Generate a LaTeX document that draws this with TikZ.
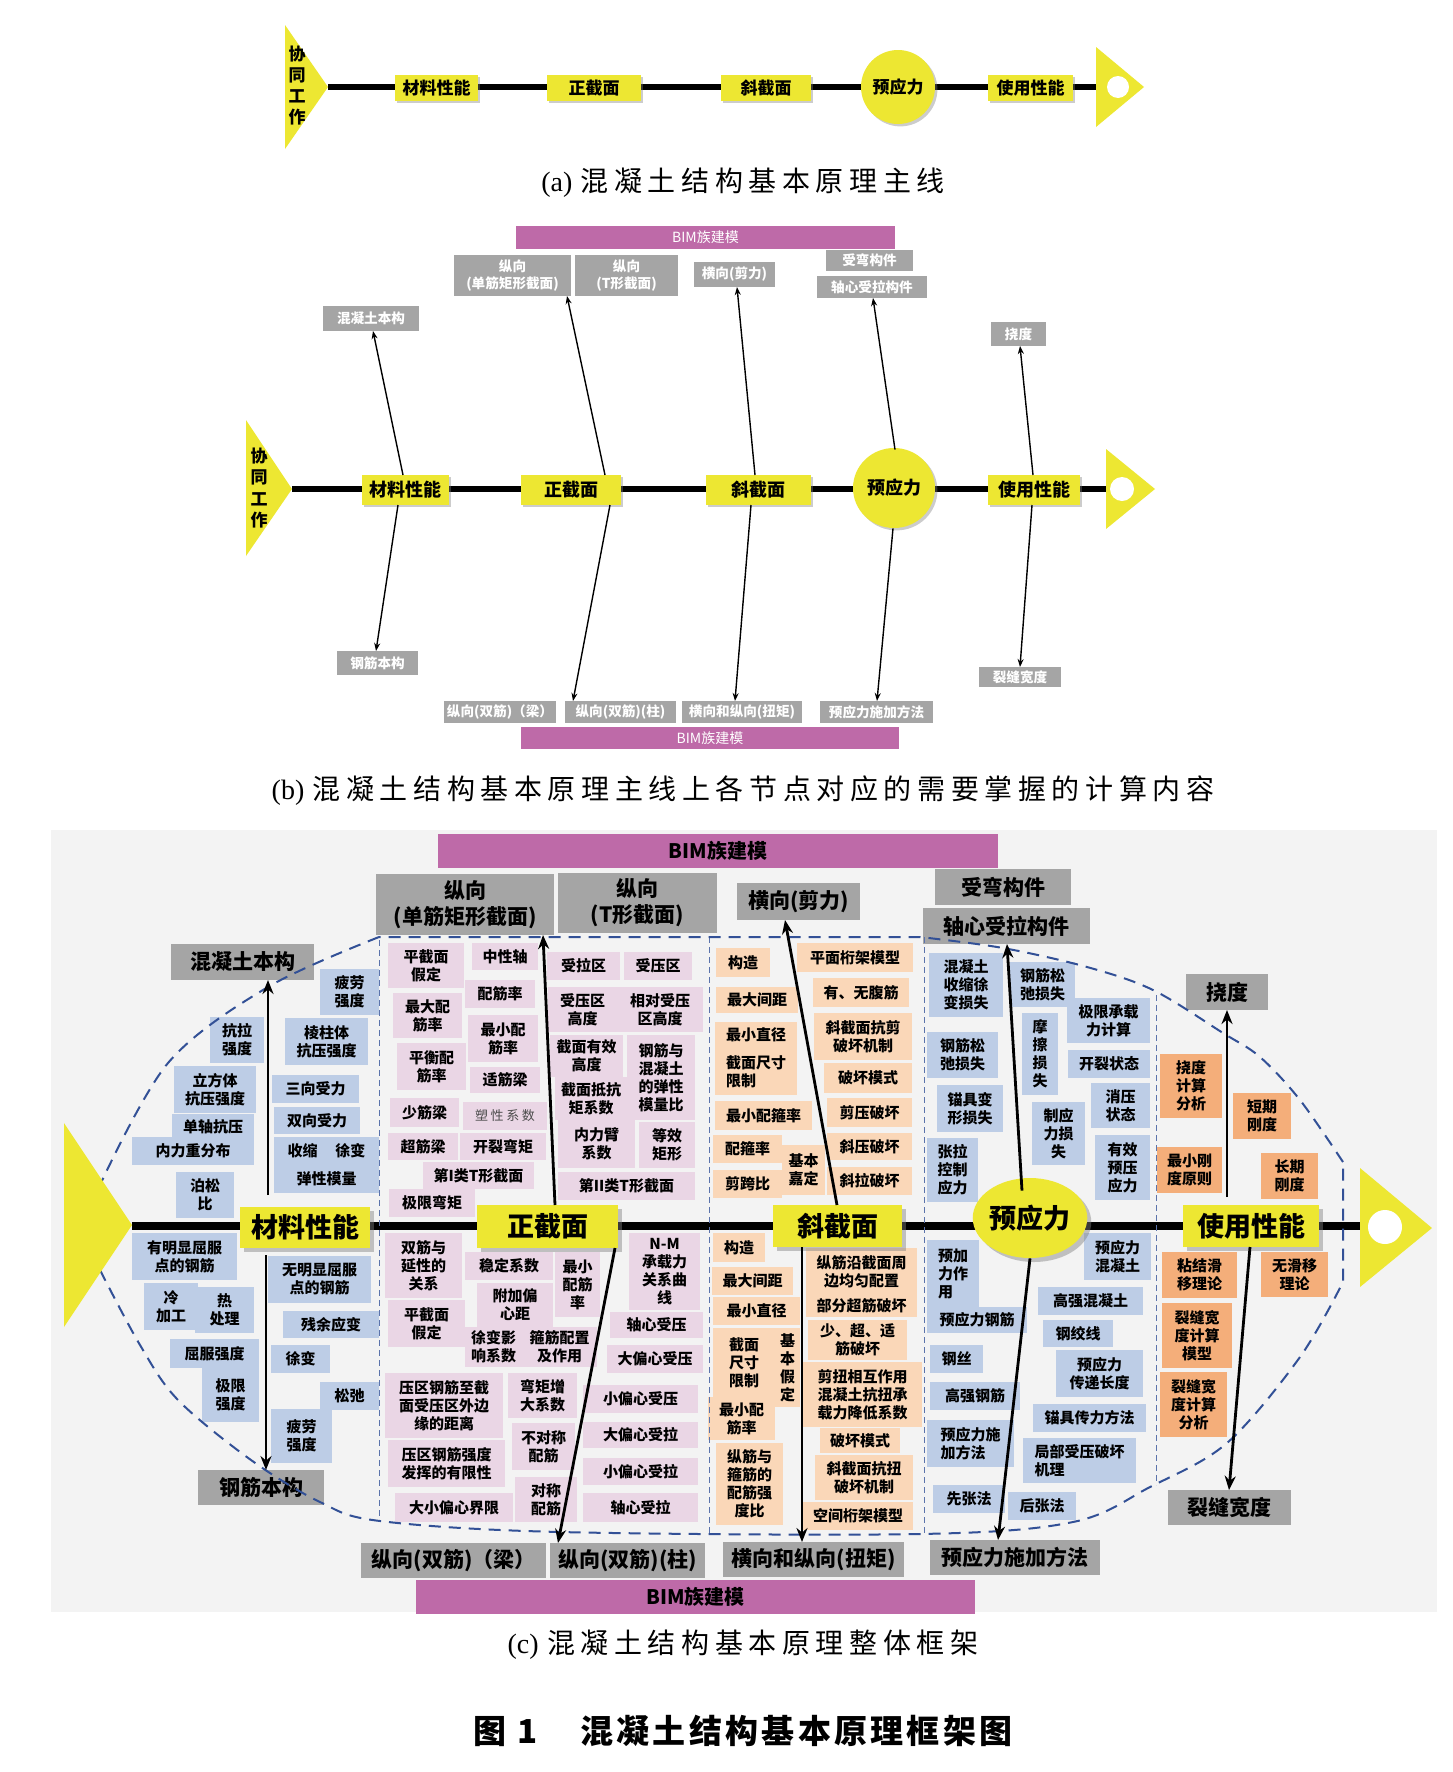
\documentclass[tikz,border=0pt]{standalone}
\usepackage{fontspec}
\setmainfont{Noto Sans CJK SC}
\newfontfamily\song{Noto Sans CJK SC}
\newfontfamily\songsp{Noto Sans CJK SC}[LetterSpace=20]
\newfontfamily\heisp{Noto Sans CJK SC}[LetterSpace=10]
\newfontfamily\tnr{Liberation Serif}
\usetikzlibrary{arrows.meta,shadows,calc,shapes.geometric}
\definecolor{yel}{RGB}{237,231,50}
\definecolor{gry}{RGB}{165,165,165}
\definecolor{bimc}{RGB}{190,106,168}
\definecolor{pk}{RGB}{234,214,229}
\definecolor{pe}{RGB}{250,215,184}
\definecolor{bl}{RGB}{189,205,230}
\definecolor{og}{RGB}{244,174,122}
\definecolor{dsh}{RGB}{50,80,150}
\definecolor{pan}{RGB}{243,243,243}
\newcommand{\bx}[7][]{\node[bx,#1,minimum width={((#5)-(#3))*0.5pt},minimum height={((#6)-(#4))*0.5pt}] (#2) at ({((#3)+(#5))/2},{((#4)+(#6))/2}) {#7};}
\tikzset{
 bx/.style={inner sep=0pt,outer sep=0pt,align=center,text=black,font=\bfseries\fontsize{7.5}{9}\selectfont},
 blb/.style={fill=bl}, pkb/.style={fill=pk}, peb/.style={fill=pe}, ogb/.style={fill=og},
 gyc/.style={fill=gry,font=\bfseries\fontsize{10.5}{13}\selectfont},
 bimcs/.style={fill=bimc,font=\bfseries\fontsize{10}{12}\selectfont},
 yc/.style={fill=yel,font=\bfseries\fontsize{13.5}{15}\selectfont,drop shadow={shadow xshift=2pt,shadow yshift=-2pt,opacity=0.45}},
 ya/.style={fill=yel,font=\bfseries\fontsize{8.5}{10}\selectfont,drop shadow={shadow xshift=1.2pt,shadow yshift=-1.2pt,opacity=0.4}},
 gb/.style={fill=gry,text=white,font=\bfseries\fontsize{6.8}{8.2}\selectfont},
 bimb/.style={fill=bimc,text=white,font=\fontsize{7}{8}\selectfont},
 arrc/.style={-{Stealth[length=7pt,width=5.5pt]},line width=1.4pt},
 arrb/.style={-{Stealth[length=4pt,width=3pt]},line width=0.7pt},
 capt/.style={inner sep=0pt,font=\songsp\fontsize{14}{16}\selectfont},
 dshl/.style={dsh,line width=1pt,dash pattern=on 6pt off 4pt},
 divl/.style={dsh!80,line width=0.5pt,dash pattern=on 3pt off 2pt},
}
\begin{document}
\begin{tikzpicture}[x=0.5pt,y=-0.5pt]
\useasboundingbox (0,0) rectangle (1452,1772);
\fill[white] (0,0) rectangle (1452,1772);
% ================= (a) =================
\fill[yel] (285,25) -- (328,87) -- (285,149) -- cycle;
\node[font=\bfseries\fontsize{8.5}{10.5}\selectfont,align=center,inner sep=0pt] (axt) at (297,86) {协\\同\\工\\作};
\draw[line width=3pt] (328,87) -- (1096,87);
\bx[ya]{ama}{395}{75}{478}{101}{材料性能}
\bx[ya]{azj}{547}{75}{641}{101}{正截面}
\bx[ya]{axj}{721}{75}{811}{101}{斜截面}
\node[ya,circle,minimum size=37pt,inner sep=0pt] (ayy) at (898,87) {预应力};
\bx[ya]{asy}{988}{75}{1073}{101}{使用性能}
\fill[yel] (1096,47) -- (1144,87) -- (1096,127) -- cycle;
\fill[white] (1118,87) circle (5.5pt);
\node[capt] (capa) at (743,183) {{\tnr (a)}\hspace{0.3em}混凝土结构基本原理主线};
% ================= (b) =================
\fill[yel] (246,420) -- (292,489) -- (246,556) -- cycle;
\node[font=\bfseries\fontsize{8.5}{10.75}\selectfont,align=center,inner sep=0pt] (bxt) at (259,488) {协\\同\\工\\作};
\draw[line width=3pt] (292,489) -- (1106,489);
\bx[ya,font=\bfseries\fontsize{9}{10}\selectfont]{bma}{362}{475}{449}{505}{材料性能}
\bx[ya,font=\bfseries\fontsize{9}{10}\selectfont]{bzj}{521}{475}{621}{505}{正截面}
\bx[ya,font=\bfseries\fontsize{9}{10}\selectfont]{bxj}{706}{475}{811}{505}{斜截面}
\node[ya,font=\bfseries\fontsize{9}{10}\selectfont,ellipse,minimum width=41pt,minimum height=40pt,inner sep=0pt] (byy) at (894,488) {预应力};
\bx[ya,font=\bfseries\fontsize{9}{10}\selectfont]{bsy}{988}{475}{1080}{505}{使用性能}
\fill[yel] (1106,449) -- (1155,489) -- (1106,529) -- cycle;
\fill[white] (1122,489) circle (6pt);
\bx[bimb]{bbim1}{516}{226}{895}{249}{BIM族建模}
\bx[bimb]{bbim2}{521}{727}{899}{749}{BIM族建模}
\bx[gb]{bhun}{323}{306}{419}{331}{混凝土本构}
\bx[gb]{bzx1}{454}{255}{571}{296}{纵向\\(单筋矩形截面)}
\bx[gb]{bzx2}{575}{255}{678}{296}{纵向\\(T形截面)}
\bx[gb]{bhx}{694}{262}{775}{287}{横向(剪力)}
\bx[gb]{bwq}{826}{250}{913}{271}{受弯构件}
\bx[gb]{bzl}{817}{276}{927}{298}{轴心受拉构件}
\bx[gb]{bnd}{991}{322}{1046}{346}{挠度}
\bx[gb]{bgj}{337}{651}{418}{675}{钢筋本构}
\bx[gb]{bsj1}{444}{701}{556}{723}{纵向(双筋)（梁）}
\bx[gb]{bsj2}{565}{701}{676}{723}{纵向(双筋)(柱)}
\bx[gb]{bhz}{682}{701}{802}{723}{横向和纵向(扭矩)}
\bx[gb]{byf}{820}{701}{933}{723}{预应力施加方法}
\bx[gb]{blf}{979}{667}{1061}{687}{裂缝宽度}
\draw[arrb] ($(bma.north)+(-2.5,0)$) -- ($(bhun.south)+(2,0)$);
\draw[arrb] ($(bma.south)+(-7.5,0)$) -- ($(bgj.north)+(-1.5,0)$);
\draw[arrb] ($(bzj.north)+(34,0)$) -- ($(bzx1.south)+(54.5,0)$);
\draw[arrb] ($(bzj.south)+(39,0)$) -- ($(bsj2.north)+(-47.5,0)$);
\draw[arrb] ($(bxj.north)+(-3.5,0)$) -- ($(bhx.south)+(2.5,0)$);
\draw[arrb] ($(bxj.south)+(-7.5,0)$) -- ($(bhz.north)+(-7,0)$);
\draw[arrb] ($(byy.north)+(1,2)$) -- ($(bzl.south)+(1,0)$);
\draw[arrb] ($(byy.south)+(-1,0)$) -- ($(byf.north)+(0.5,0)$);
\draw[arrb] ($(bsy.north)+(-1,0)$) -- ($(bnd.south)+(1.5,0)$);
\draw[arrb] ($(bsy.south)+(-2,0)$) -- (blf.north);
\node[capt] (capb) at (743,791) {{\tnr (b)}\hspace{0.3em}混凝土结构基本原理主线上各节点对应的需要掌握的计算内容};
% ================= (c) =================
\fill[pan] (51,830) rectangle (1437,1612);
\bx[bimcs]{bim1}{438}{834}{998}{868}{BIM族建模}
\bx[bimcs]{bim2}{416}{1580}{975}{1614}{BIM族建模}
% grey headers
\bx[gyc]{hun}{171}{944}{314}{980}{混凝土本构}
\bx[gyc]{gjb}{198}{1470}{324}{1505}{钢筋本构}
\bx[gyc]{zx1}{376}{874}{554}{935}{纵向\\(单筋矩形截面)}
\bx[gyc]{zx2}{558}{873}{717}{933}{纵向\\(T形截面)}
\bx[gyc]{sj1}{361}{1543}{546}{1578}{纵向(双筋)（梁）}
\bx[gyc]{sj2}{550}{1543}{705}{1578}{纵向(双筋)(柱)}
\bx[gyc]{hx}{737}{883}{860}{920}{横向(剪力)}
\bx[gyc]{hz}{723}{1542}{904}{1577}{横向和纵向(扭矩)}
\bx[gyc]{wq}{935}{869}{1071}{905}{受弯构件}
\bx[gyc]{zl}{923}{908}{1090}{944}{轴心受拉构件}
\bx[gyc]{yf}{930}{1540}{1100}{1575}{预应力施加方法}
\bx[gyc]{nd}{1186}{974}{1268}{1010}{挠度}
\bx[gyc]{lf}{1168}{1490}{1291}{1525}{裂缝宽度}
% material (blue)
\bx[blb]{m1}{320}{969}{379}{1015}{疲劳\\强度}
\bx[blb]{m2}{210}{1017}{264}{1063}{抗拉\\强度}
\bx[blb]{m3}{285}{1018}{368}{1065}{棱柱体\\抗压强度}
\bx[blb]{m4}{174}{1066}{256}{1113}{立方体\\抗压强度}
\bx[blb]{m5}{272}{1075}{359}{1103}{三向受力}
\bx[blb]{m6}{274}{1107}{360}{1134}{双向受力}
\bx[blb]{m7}{172}{1114}{254}{1140}{单轴抗压}
\bx[blb]{m8}{132}{1137}{254}{1165}{内力重分布}
\bx[blb]{m9}{274}{1137}{379}{1165}{收缩\hspace{1.2em}徐变}
\bx[blb]{m10}{274}{1165}{379}{1193}{弹性模量}
\bx[blb]{m11}{176}{1172}{234}{1218}{泊松\\比}
\bx[blb]{m12}{132}{1233}{237}{1280}{有明显屈服\\点的钢筋}
\bx[blb]{m13}{144}{1283}{198}{1330}{冷\\加工}
\bx[blb]{m14}{195}{1287}{254}{1333}{热\\处理}
\bx[blb]{m15}{170}{1339}{259}{1368}{屈服强度}
\bx[blb]{m16}{202}{1368}{259}{1422}{极限\\强度}
\bx[blb]{m17}{268}{1256}{371}{1303}{无明显屈服\\点的钢筋}
\bx[blb]{m18}{283}{1311}{379}{1338}{残余应变}
\bx[blb]{m19}{271}{1345}{330}{1373}{徐变}
\bx[blb]{m20}{320}{1382}{379}{1410}{松弛}
\bx[blb]{m21}{271}{1409}{332}{1463}{疲劳\\强度}
% normal section (pink)
\bx[pkb]{z1}{388}{943}{464}{988}{平截面\\假定}
\bx[pkb]{z2}{472}{943}{538}{970}{中性轴}
\bx[pkb]{z3}{465}{980}{535}{1008}{配筋率}
\bx[pkb]{z4}{393}{993}{462}{1038}{最大配\\筋率}
\bx[pkb]{z5}{468}{1015}{538}{1062}{最小配\\筋率}
\bx[pkb]{z6}{397}{1043}{466}{1090}{平衡配\\筋率}
\bx[pkb]{z7}{470}{1067}{540}{1093}{适筋梁}
\bx[pkb]{z8}{390}{1098}{459}{1127}{少筋梁}
\bx[pkb,font=\songsp\fontsize{6.5}{8}\selectfont,text=black!70]{z9}{463}{1102}{547}{1130}{塑性系数}
\bx[pkb]{z10}{388}{1133}{458}{1160}{超筋梁}
\bx[pkb]{z11}{460}{1133}{546}{1160}{开裂弯矩}
\bx[pkb]{z12}{423}{1162}{534}{1189}{第I类T形截面}
\bx[pkb]{z13}{389}{1189}{475}{1217}{极限弯矩}
\bx[pkb]{z14}{547}{952}{620}{980}{受拉区}
\bx[pkb]{z15}{624}{952}{692}{980}{受压区}
\bx[pkb]{z16}{548}{987}{617}{1032}{受压区\\高度}
\bx[pkb]{z17}{617}{987}{703}{1032}{相对受压\\区高度}
\bx[pkb]{z18}{550}{1035}{623}{1077}{截面有效\\高度}
\bx[pkb]{z19}{555}{1077}{627}{1120}{截面抵抗\\矩系数}
\bx[pkb]{z20}{627}{1035}{695}{1120}{钢筋与\\混凝土\\的弹性\\模量比}
\bx[pkb]{z21}{558}{1120}{635}{1168}{内力臂\\系数}
\bx[pkb]{z22}{639}{1122}{695}{1168}{等效\\矩形}
\bx[pkb]{z23}{558}{1172}{695}{1200}{第II类T形截面}
\bx[pkb]{z24}{385}{1233}{462}{1298}{双筋与\\延性的\\关系}
\bx[pkb]{z25}{465}{1252}{553}{1280}{稳定系数}
\bx[pkb]{z26}{555}{1252}{600}{1317}{最小\\配筋\\率}
\bx[pkb]{z27}{629}{1233}{700}{1310}{N-M\\承载力\\关系曲\\线}
\bx[pkb]{z28}{388}{1300}{465}{1347}{平截面\\假定}
\bx[pkb]{z29}{477}{1283}{553}{1327}{附加偏\\心距}
\bx[pkb]{z30}{610}{1312}{703}{1338}{轴心受压}
\bx[pkb]{z31}{465}{1327}{522}{1367}{徐变影\\响系数}
\bx[pkb]{z32}{522}{1327}{597}{1367}{箍筋配置\\及作用}
\bx[pkb]{z33}{607}{1345}{703}{1373}{大偏心受压}
\bx[pkb]{z34}{385}{1373}{503}{1438}{压区钢筋至截\\面受压区外边\\缘的距离}
\bx[pkb]{z35}{508}{1373}{577}{1418}{弯矩增\\大系数}
\bx[pkb]{z36}{583}{1385}{698}{1413}{小偏心受压}
\bx[pkb]{z37}{512}{1423}{575}{1470}{不对称\\配筋}
\bx[pkb]{z38}{583}{1422}{698}{1448}{大偏心受拉}
\bx[pkb]{z39}{388}{1440}{505}{1487}{压区钢筋强度\\发挥的有限性}
\bx[pkb]{z40}{583}{1458}{698}{1485}{小偏心受拉}
\bx[pkb]{z41}{515}{1477}{577}{1522}{对称\\配筋}
\bx[pkb]{z42}{395}{1493}{513}{1522}{大小偏心界限}
\bx[pkb]{z43}{583}{1493}{698}{1522}{轴心受拉}
% inclined section (peach)
\bx[peb]{x1}{716}{948}{770}{977}{构造}
\bx[peb]{x2}{797}{943}{913}{972}{平面桁架模型}
\bx[peb]{x3}{716}{987}{798}{1013}{最大间距}
\bx[peb]{x4}{813}{978}{909}{1007}{有、无腹筋}
\bx[peb]{x5}{715}{1022}{797}{1048}{最小直径}
\bx[peb,align=left]{x6}{715}{1048}{797}{1095}{截面尺寸\\限制}
\bx[peb]{x7}{814}{1013}{912}{1060}{斜截面抗剪\\破坏机制}
\bx[peb]{x8}{824}{1063}{912}{1093}{破坏模式}
\bx[peb]{x9}{715}{1101}{812}{1130}{最小配箍率}
\bx[peb]{x10}{827}{1098}{912}{1127}{剪压破坏}
\bx[peb]{x11}{713}{1135}{782}{1163}{配箍率}
\bx[peb]{x12}{782}{1145}{825}{1195}{基本\\嘉定}
\bx[peb]{x13}{827}{1133}{912}{1160}{斜压破坏}
\bx[peb]{x14}{713}{1170}{782}{1198}{剪跨比}
\bx[peb]{x15}{827}{1167}{912}{1195}{斜拉破坏}
\bx[peb]{x16}{713}{1233}{765}{1262}{构造}
\bx[peb]{x17}{712}{1267}{793}{1295}{最大间距}
\bx[peb]{x18}{713}{1297}{800}{1325}{最小直径}
\bx[peb]{x19}{713}{1328}{775}{1397}{截面\\尺寸\\限制}
\bx[peb]{x20}{775}{1328}{800}{1407}{基\\本\\假\\定}
\bx[peb]{x21}{708}{1397}{775}{1440}{最小配\\筋率}
\bx[peb]{x22}{716}{1443}{783}{1525}{纵筋与\\箍筋的\\配筋强\\度比}
\bx[peb]{x23}{806}{1248}{917}{1295}{纵筋沿截面周\\边均匀配置}
\bx[peb]{x24}{806}{1295}{917}{1317}{部分超筋破坏}
\bx[peb]{x25}{808}{1320}{907}{1360}{少、超、适\\筋破坏}
\bx[peb]{x26}{803}{1362}{922}{1427}{剪扭相互作用\\混凝土抗扭承\\载力降低系数}
\bx[peb]{x27}{820}{1428}{900}{1453}{破坏模式}
\bx[peb]{x28}{815}{1455}{913}{1500}{斜截面抗扭\\破坏机制}
\bx[peb]{x29}{803}{1502}{913}{1530}{空间桁架模型}
% prestress (blue)
\bx[blb]{y1}{929}{953}{1003}{1017}{混凝土\\收缩徐\\变损失}
\bx[blb]{y2}{1010}{962}{1075}{1007}{钢筋松\\弛损失}
\bx[blb]{y3}{1067}{998}{1150}{1043}{极限承载\\力计算}
\bx[blb]{y4}{927}{1032}{998}{1078}{钢筋松\\弛损失}
\bx[blb]{y5}{1022}{1013}{1058}{1095}{摩\\擦\\损\\失}
\bx[blb]{y6}{1068}{1050}{1150}{1078}{开裂状态}
\bx[blb]{y7}{937}{1085}{1003}{1132}{锚具变\\形损失}
\bx[blb]{y8}{1091}{1083}{1150}{1128}{消压\\状态}
\bx[blb]{y9}{1032}{1102}{1085}{1165}{制应\\力损\\失}
\bx[blb]{y10}{927}{1138}{978}{1202}{张拉\\控制\\应力}
\bx[blb]{y11}{1095}{1135}{1150}{1200}{有效\\预压\\应力}
\bx[blb,align=left]{y12}{927}{1240}{979}{1307}{预加\\力作\\用}
\bx[blb]{y13}{927}{1307}{1027}{1333}{预应力钢筋}
\bx[blb]{y14}{1084}{1233}{1151}{1280}{预应力\\混凝土}
\bx[blb]{y15}{1038}{1287}{1143}{1315}{高强混凝土}
\bx[blb]{y16}{1043}{1320}{1113}{1347}{钢绞线}
\bx[blb]{y17}{930}{1345}{983}{1373}{钢丝}
\bx[blb]{y18}{1056}{1350}{1143}{1397}{预应力\\传递长度}
\bx[blb]{y19}{930}{1382}{1020}{1410}{高强钢筋}
\bx[blb]{y20}{1033}{1404}{1146}{1432}{锚具传力方法}
\bx[blb,align=left]{y21}{927}{1420}{1014}{1467}{预应力施\\加方法}
\bx[blb,align=left]{y22}{1023}{1438}{1136}{1483}{局部受压破坏\\机理}
\bx[blb]{y23}{933}{1485}{1005}{1513}{先张法}
\bx[blb]{y24}{1008}{1492}{1076}{1520}{后张法}
% serviceability (orange)
\bx[ogb]{s1}{1160}{1054}{1222}{1118}{挠度\\计算\\分析}
\bx[ogb]{s2}{1233}{1093}{1291}{1139}{短期\\刚度}
\bx[ogb]{s3}{1157}{1147}{1222}{1193}{最小刚\\度原则}
\bx[ogb]{s4}{1261}{1153}{1318}{1199}{长期\\刚度}
\bx[ogb]{s5}{1162}{1252}{1237}{1298}{粘结滑\\移理论}
\bx[ogb]{s6}{1261}{1252}{1328}{1297}{无滑移\\理论}
\bx[ogb]{s7}{1162}{1303}{1232}{1368}{裂缝宽\\度计算\\模型}
\bx[ogb]{s8}{1160}{1372}{1227}{1437}{裂缝宽\\度计算\\分析}
% spine
\draw[line width=4pt] (132,1226) -- (1360,1226);
% dashed outline and dividers
\draw[divl] (379,940) -- (379,1521);
\draw[divl] (709,937) -- (709,1534);
\draw[divl] (924,937) -- (924,1534);
\draw[divl] (1156,995) -- (1156,1485);
\draw[dshl] plot[smooth,tension=0.55] coordinates {(100,1270) (140,1345) (178,1400) (251,1460) (320,1502) (380,1521) (560,1532) (920,1534) (1073,1522) (1150,1487) (1227,1443) (1300,1357) (1343,1282)} -- (1343,1162)
  plot[smooth,tension=0.55] coordinates {(1343,1162) (1300,1100) (1260,1057) (1223,1033) (1153,990) (1087,967) (1003,948) (920,937)} -- (379,937)
  plot[smooth,tension=0.55] coordinates {(379,937) (268,987) (168,1063) (100,1185)};
% triangles
\fill[yel] (64,1123) -- (132,1225) -- (64,1327) -- cycle;
\fill[yel] (1360,1168) -- (1432,1228) -- (1360,1287) -- cycle;
\fill[white] (1385,1227) circle (8.5pt);
% yellow nodes
\bx[yc]{ma}{240}{1207}{370}{1248}{材料性能}
\bx[yc]{zj}{477}{1205}{618}{1248}{正截面}
\bx[yc]{xj}{773}{1205}{902}{1247}{斜截面}
\node[yc,ellipse,minimum width=55pt,minimum height=40pt,inner sep=0pt] (yy) at (1030,1218) {\raisebox{-2.5pt}{预应力}};
\bx[yc]{sy}{1183}{1205}{1319}{1247}{使用性能}
% arrows
\draw[arrc] ($(ma.north)+(-37,-12)$) -- ($(hun.south)+(25.5,0)$);
\draw[arrc] ($(ma.south)+(-39,7)$) -- ($(gjb.north)+(5,0)$);
\draw[arrc] ($(zj.north)+(7.5,0)$) -- ($(zx1.south)+(78,0)$);
\draw[arrc] ($(zj.south)+(67.5,0)$) -- ($(sj2.north)+(-69.5,0)$);
\draw[arrc] ($(xj.north)+(-0.5,0)$) -- ($(hx.south)+(-13.5,0)$);
\draw[arrc] ($(xj.south)+(-35.5,0)$) -- ($(hz.north)+(-11.5,0)$);
\draw[arrc] ($(yy.north)+(-8,13)$) -- ($(zl.south)+(0.5,0)$);
\draw[arrc] (yy.south) -- ($(yf.north)+(-17,0)$);
\draw[arrc] ($(sy.north)+(-24,-8)$) -- (nd.south);
\draw[arrc] ($(sy.south)+(-1,0)$) -- ($(lf.north)+(-0.5,0)$);
\node[capt] (capc) at (743,1645) {{\tnr (c)}\hspace{0.3em}混凝土结构基本原理整体框架};
\node[inner sep=0pt,font=\heisp\bfseries\fontsize{16.5}{18}\selectfont] (ttl) at (743,1731) {图 1\hspace{1.3em}混凝土结构基本原理框架图};
\end{tikzpicture}
\end{document}
